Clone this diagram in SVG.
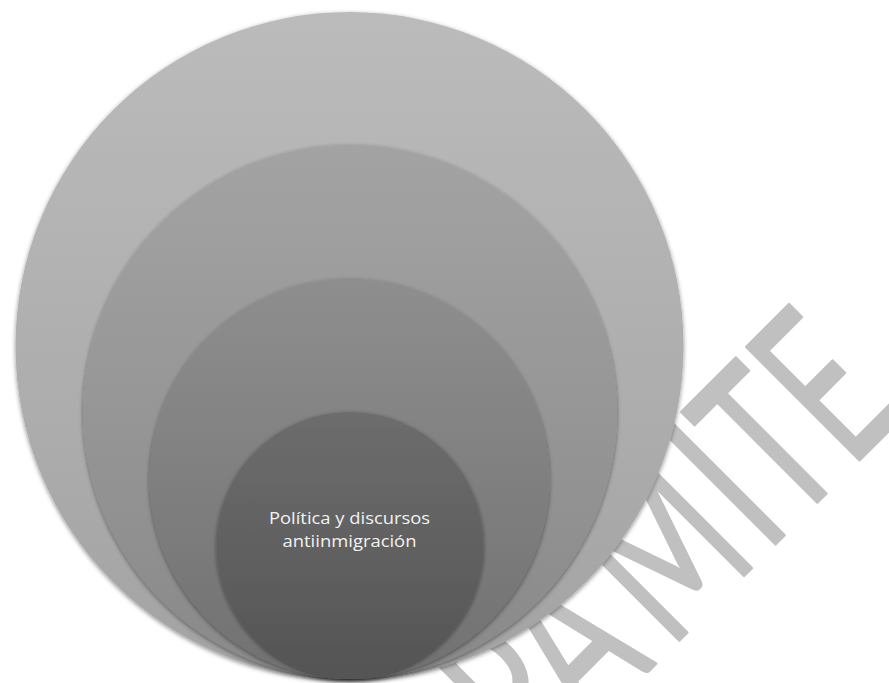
<svg xmlns="http://www.w3.org/2000/svg" width="889" height="683" viewBox="0 0 889 683">
  <style>
    .wm { font-family: "Lato", "Open Sans", "DejaVu Sans", sans-serif; font-weight: 400; font-size: 223px; fill: #c0c0c0; stroke: #c0c0c0; stroke-width: 3; stroke-linejoin: round; vector-effect: non-scaling-stroke; text-anchor: middle; }
    .lbl { font-family: "Open Sans", "Liberation Sans", sans-serif; font-size: 16px; fill: #f2f2f2; text-anchor: middle; }
    .ring { filter: url(#shadow); }
  </style>
  <defs>
    <filter id="shadow" x="-10%" y="-10%" width="120%" height="120%">
      <feDropShadow dx="0" dy="1.5" stdDeviation="2.2" flood-color="#000000" flood-opacity="0.45"/>
    </filter>
    <linearGradient id="g1" x1="0" y1="0" x2="0" y2="1">
      <stop offset="0" stop-color="#bbbbbb"/>
      <stop offset="1" stop-color="#a3a3a3"/>
    </linearGradient>
    <linearGradient id="g2" x1="0" y1="0" x2="0" y2="1">
      <stop offset="0" stop-color="#a3a3a3"/>
      <stop offset="1" stop-color="#898989"/>
    </linearGradient>
    <linearGradient id="g3" x1="0" y1="0" x2="0" y2="1">
      <stop offset="0" stop-color="#8e8e8e"/>
      <stop offset="1" stop-color="#717171"/>
    </linearGradient>
    <linearGradient id="g4" x1="0" y1="0" x2="0" y2="1">
      <stop offset="0" stop-color="#6d6d6d"/>
      <stop offset="1" stop-color="#545454"/>
    </linearGradient>
  </defs>
  <rect width="889" height="683" fill="#ffffff"/>
  <text class="wm" transform="rotate(-45) scale(0.62,1)" y="933"><tspan x="-210">R</tspan><tspan x="-83">A</tspan><tspan x="127">M</tspan><tspan x="274">I</tspan><tspan x="369">T</tspan><tspan x="499">E</tspan></text>
  <g id="connectors"></g>
  <g id="circle-1"><circle class="ring" cx="349.5" cy="346" r="334" fill="url(#g1)"/></g>
  <g id="circle-2"><circle class="ring" cx="350" cy="412" r="267" fill="url(#g2)"/></g>
  <g id="circle-3"><circle class="ring" cx="349.5" cy="479" r="200" fill="url(#g3)"/></g>
  <g id="circle-4">
    <circle class="ring" cx="350" cy="545.5" r="133.5" fill="url(#g4)"/>
    <text class="lbl" x="349.5" y="524" textLength="161" lengthAdjust="spacingAndGlyphs">Política y discursos</text>
    <text class="lbl" x="349.5" y="547" textLength="134" lengthAdjust="spacingAndGlyphs">antiinmigración</text>
  </g>
</svg>
